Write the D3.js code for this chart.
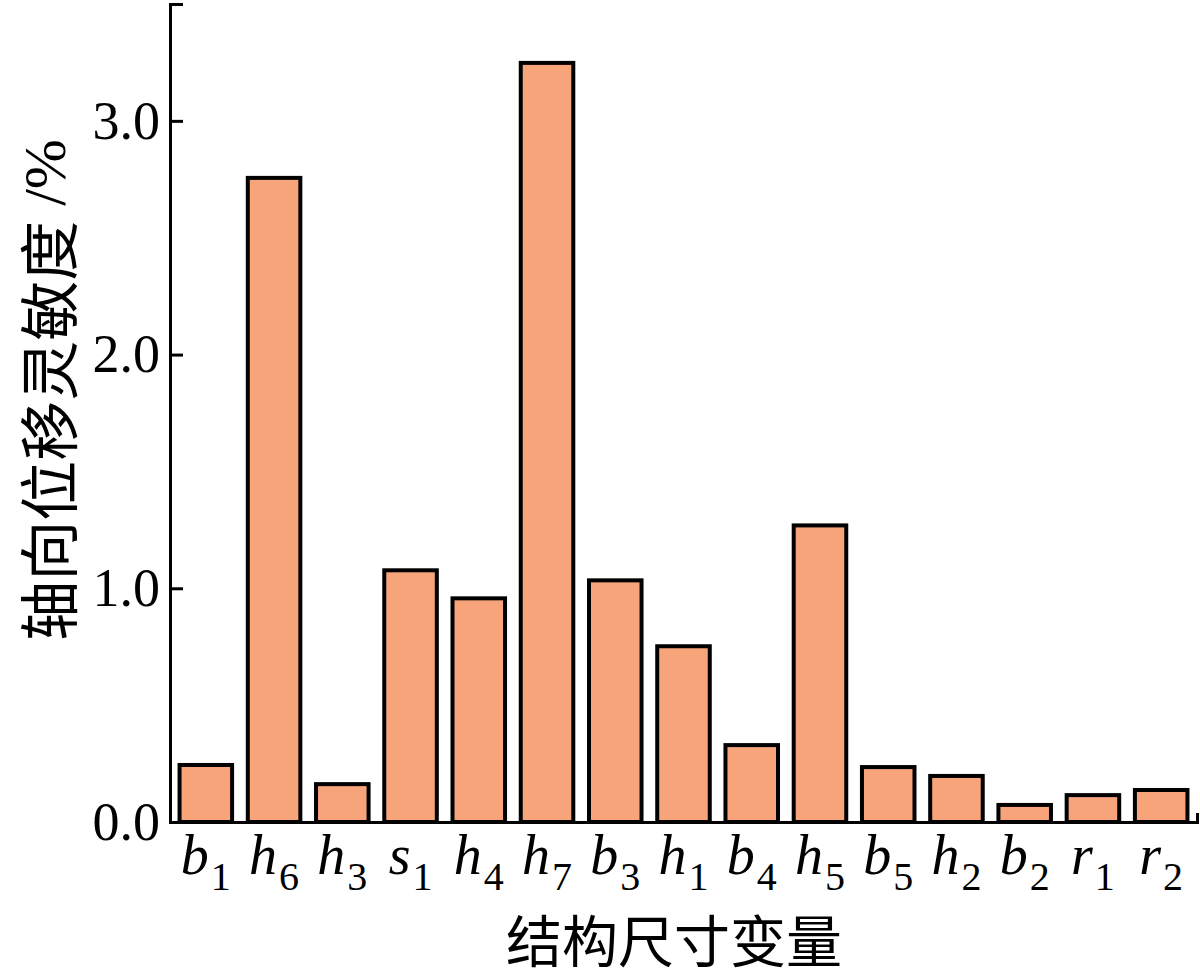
<!DOCTYPE html>
<html>
<head>
<meta charset="utf-8">
<script src="https://cdn.jsdelivr.net/npm/d3@7"></script>
<style>
  html, body { margin: 0; padding: 0; background: #fff; }
  svg { display: block; }
</style>
</head>
<body>
<div id="chart"></div>
<script>
// variable names: italic letter + subscript digit
const letters = ['b', 'h', 'h', 's', 'h', 'h', 'b', 'h', 'b', 'h', 'b', 'h', 'b', 'r', 'r'];
const subs    = ['1', '6', '3', '1', '4', '7', '3', '1', '4', '5', '5', '2', '2', '1', '2'];
const sensitivity = [0.244, 2.756, 0.162, 1.077, 0.957, 3.248, 1.034, 0.752, 0.329, 1.269, 0.235, 0.197, 0.073, 0.115, 0.137];
const yTicks = [0, 1, 2, 3];

const categories = letters.map((l, i) => l + subs[i]);

const W = 1200, H = 979;
const mLeft = 170, mRight = 1197, mTop = 4, mBottom = 822;

const svg = d3.select('#chart')
  .append('svg')
  .attr('width', W)
  .attr('height', H);

const x = d3.scaleBand()
  .domain(categories)
  .range([mLeft, mRight])
  .paddingInner(0.23)
  .paddingOuter(0.14);

const y = d3.scaleLinear()
  .domain([0, 3.5])
  .range([mBottom, mTop]);

// bars
svg.append('g')
  .selectAll('rect')
  .data(sensitivity)
  .join('rect')
  .attr('x', (d, i) => x(categories[i]))
  .attr('y', d => y(d))
  .attr('width', x.bandwidth())
  .attr('height', d => y(0) - y(d))
  .attr('fill', '#f8a47b')
  .attr('stroke', '#000')
  .attr('stroke-width', 4);

// y axis, ticks pointing inward
const yAxis = svg.append('g')
  .attr('transform', `translate(${mLeft},0)`)
  .call(d3.axisLeft(y)
    .tickValues(yTicks)
    .tickFormat(d3.format('.1f'))
    .tickSizeInner(-13)
    .tickSizeOuter(-13)
    .tickPadding(10));

yAxis.selectAll('path, line').attr('stroke', '#000').attr('stroke-width', 3);
yAxis.selectAll('text')
  .attr('font-family', '"Liberation Serif", "Times New Roman", serif')
  .attr('font-size', 54)
  .attr('fill', '#000');

// x axis
const xAxis = svg.append('g')
  .attr('transform', `translate(0,${mBottom})`)
  .call(d3.axisBottom(x)
    .tickSizeInner(0)
    .tickSizeOuter(-9)
    .tickPadding(12));

xAxis.selectAll('path, line').attr('stroke', '#000').attr('stroke-width', 3);
xAxis.selectAll('.tick text')
  .attr('font-family', '"Liberation Serif", "Times New Roman", serif')
  .attr('font-size', 56)
  .attr('fill', '#000')
  .attr('dy', '0.71em')
  .text(null)
  .each(function (d, i) {
    const t = d3.select(this);
    t.append('tspan').attr('font-style', 'italic').text(letters[i]);
    t.append('tspan').attr('font-size', 40).attr('dx', 2).attr('dy', 16).text(subs[i]);
  });

// axis titles
svg.append('text')
  .attr('x', 674)
  .attr('y', 962)
  .attr('text-anchor', 'middle')
  .attr('font-family', '"Noto Sans CJK SC", sans-serif')
  .attr('font-size', 56)
  .attr('fill', '#000')
  .text('结构尺寸变量');

const yTitle = svg.append('text')
  .attr('transform', 'translate(45,390) rotate(-90)')
  .attr('text-anchor', 'middle')
  .attr('dominant-baseline', 'central')
  .attr('font-size', 60)
  .attr('fill', '#000');

yTitle.append('tspan')
  .attr('font-family', '"Noto Sans CJK SC", sans-serif')
  .text('轴向位移灵敏度');
yTitle.append('tspan')
  .attr('font-family', '"Liberation Serif", "Times New Roman", serif')
  .text('\u00a0/%');
</script>
</body>
</html>
